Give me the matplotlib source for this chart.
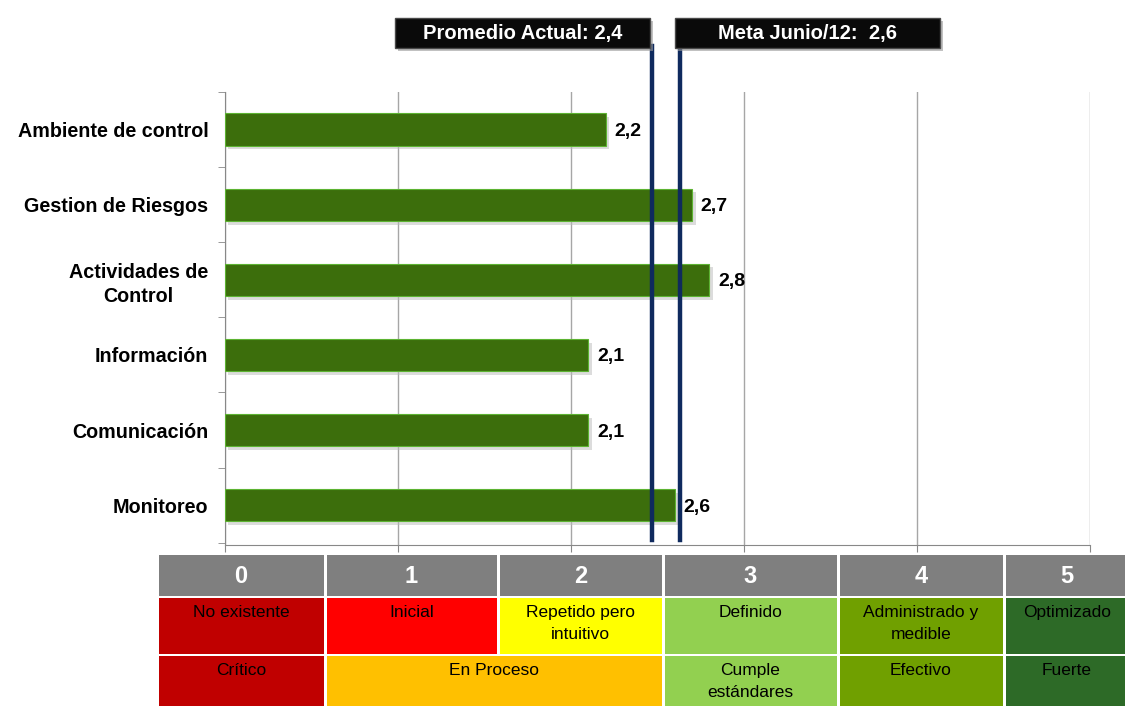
import matplotlib
matplotlib.use("Agg")
import matplotlib.pyplot as plt
from matplotlib.patches import Rectangle

# data
categories = ["Ambiente de control", "Gestion de Riesgos", "Actividades de\nControl",
              "Información", "Comunicación", "Monitoreo"]
scores = [2.2, 2.7, 2.8, 2.1, 2.1, 2.6]
ref_labels = ["Promedio Actual: 2,4", "Meta Junio/12:  2,6"]
ref_lines = [2.47, 2.63]   # where the two lines sit on the picture

levels = ["0", "1", "2", "3", "4", "5"]
level_names = ["No existente", "Inicial", "Repetido pero\nintuitivo", "Definido",
               "Administrado y\nmedible", "Optimizado"]
status_names = ["Crítico", "En Proceso", "Cumple\nestándares", "Efectivo", "Fuerte"]
status_span = [(0, 1), (1, 3), (3, 4), (4, 5), (5, 6)]   # columns each status covers

level_colors = ["#C00000", "#FF0000", "#FFFF00", "#92D050", "#70A000", "#2D6A27"]
status_colors = ["#C00000", "#FFC000", "#92D050", "#70A000", "#2D6A27"]

plt.rcParams['font.family'] = ['Liberation Sans', 'DejaVu Sans']

W, H = 1125, 706
fig = plt.figure(figsize=(W / 100, H / 100), dpi=100)
ax = fig.add_axes([225 / W, 161 / H, 865 / W, 453 / H])

ypos = list(range(len(categories)))
# soft shadow, then the bars
ax.barh([y + 0.05 for y in ypos], scores, height=0.43, left=0.02, color="#bbbbbb", alpha=0.5, zorder=2)
ax.barh(ypos, scores, height=0.43, color="#3C6E0C", edgecolor="#5DB332", linewidth=0.8, zorder=3)
for y, v in zip(ypos, scores):
    ax.text(v + 0.05, y, f"{v:.1f}".replace(".", ","), va="center_baseline", ha="left",
            fontsize=14, fontweight="bold", color="black", zorder=4)

ax.set_xlim(0, 5)
ax.set_ylim(len(categories) - 0.47, -0.5)
ax.set_xticks(range(6))
ax.set_xticklabels([])
ax.set_yticks(ypos)
ax.set_yticklabels(categories, fontsize=14.2, fontweight="bold", multialignment="center",
                   linespacing=1.35)
ax.set_yticks([y + 0.5 for y in range(-1, len(categories))], minor=True)
ax.tick_params(axis="y", which="major", length=0, pad=12)
ax.tick_params(axis="y", which="minor", length=5, color="#888888")
ax.tick_params(axis="x", length=5, color="#888888")
ax.grid(axis="x", color="#A6A6A6", linewidth=1, zorder=0)
ax.set_axisbelow(True)
for s in ["top", "right"]:
    ax.spines[s].set_visible(False)
for s in ["left", "bottom"]:
    ax.spines[s].set_color("#888888")

for x in ref_lines:
    ax.axvline(x, ymin=0.01, ymax=(545 - 46) / 453, color="#0F2A5E", linewidth=3.2,
               clip_on=False, zorder=5)

# overlay in pixel coordinates for boxes and the scale table
ov = fig.add_axes([0, 0, 1, 1])
ov.set_xlim(0, W)
ov.set_ylim(H, 0)
ov.axis("off")

boxes = [(395, 650), (675, 940)]
for (x0, x1), lab in zip(boxes, ref_labels):
    ov.add_patch(Rectangle((x0 + 3, 21), x1 - x0, 30, facecolor="#999999", alpha=0.6, lw=0))
    ov.add_patch(Rectangle((x0, 18), x1 - x0, 30, facecolor="#0A0A0A", edgecolor="#4a4a4a", lw=1))
    ov.text((x0 + x1) / 2, 33, lab, color="white", fontsize=14.5, fontweight="bold",
            ha="center", va="center")

cols = [157, 325, 498, 663, 838, 1004, 1130]
gap = 1.5
rows = [(555, 596), (598, 654), (656, 710)]
for i, lv in enumerate(levels):
    x0, x1 = cols[i] + gap, cols[i + 1] - gap
    r0, r1 = rows[0]
    ov.add_patch(Rectangle((x0, r0), x1 - x0, r1 - r0, facecolor="#7F7F7F", lw=0))
    ov.text((x0 + x1) / 2, (r0 + r1) / 2 + 1, lv, color="white", fontsize=17,
            fontweight="bold", ha="center", va="center")
    r0, r1 = rows[1]
    ov.add_patch(Rectangle((x0, r0), x1 - x0, r1 - r0, facecolor=level_colors[i], lw=0))
    ov.text((x0 + x1) / 2, r0 + 7, level_names[i], color="black", fontsize=12.5,
            ha="center", va="top", linespacing=1.55)

for (c0, c1), name, col in zip(status_span, status_names, status_colors):
    x0, x1 = cols[c0] + gap, cols[c1] - gap
    r0, r1 = rows[2]
    ov.add_patch(Rectangle((x0, r0), x1 - x0, r1 - r0, facecolor=col, lw=0))
    ov.text((x0 + x1) / 2, r0 + 7, name, color="black", fontsize=12.5,
            ha="center", va="top", linespacing=1.55)

fig.savefig("out.png", dpi=100)
